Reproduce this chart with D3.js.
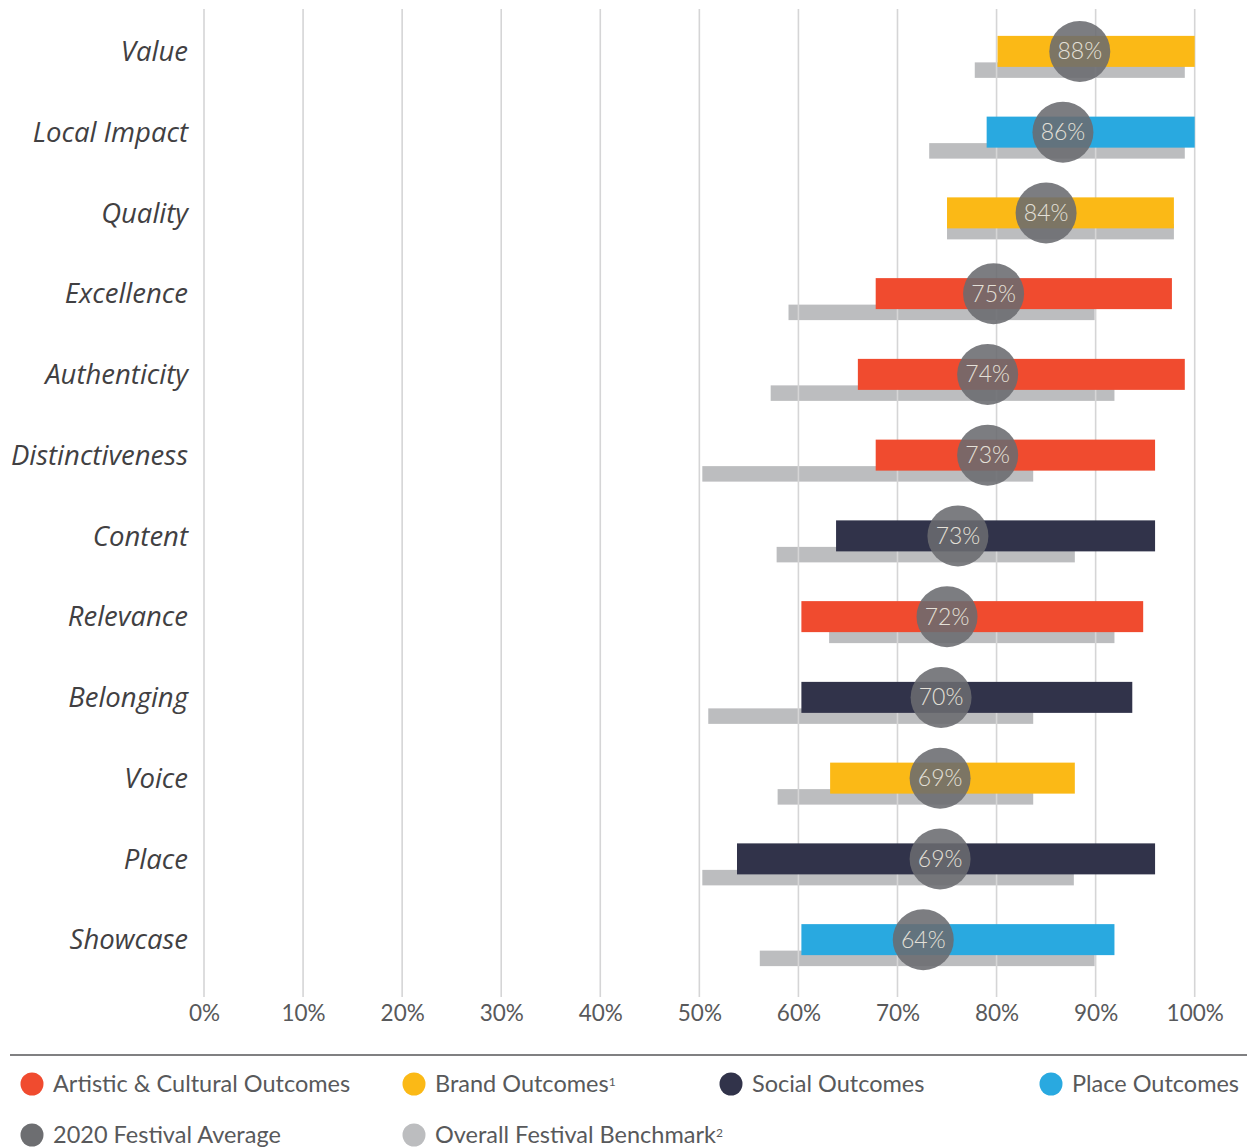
<!DOCTYPE html>
<html>
<head>
<meta charset="utf-8">
<script src="https://cdn.jsdelivr.net/npm/d3@7"></script>
<style>
  body { margin: 0; background: #fff; }
  svg { display: block; }
</style>
</head>
<body>
<div id="chart"></div>
<script>
// indicators, top to bottom
var categories = ['Value', 'Local Impact', 'Quality', 'Excellence', 'Authenticity', 'Distinctiveness',
  'Content', 'Relevance', 'Belonging', 'Voice', 'Place', 'Showcase']

// which outcome group each indicator belongs to
var outcomeType = ['brand', 'place', 'brand', 'artistic', 'artistic', 'artistic',
  'social', 'artistic', 'social', 'brand', 'social', 'place']

// 2020 festival range (coloured bar), in %
var rangeLow = [80.1, 79.0, 75.0, 67.8, 66.0, 67.8, 63.8, 60.3, 60.3, 63.2, 53.8, 60.3]
var rangeHigh = [100, 100, 97.9, 97.7, 99.0, 96.0, 96.0, 94.8, 93.7, 87.9, 96.0, 91.9]

// overall festival benchmark range (grey bar), in %
var benchLow = [77.8, 73.2, 75.0, 59.0, 57.2, 50.3, 57.8, 63.1, 50.9, 57.9, 50.3, 56.1]
var benchHigh = [99.0, 99.0, 97.9, 89.9, 91.9, 83.7, 87.9, 91.9, 83.7, 83.7, 87.8, 89.9]

// 2020 festival average: where the dot sits and what it says
var avgPos = [88.4, 86.7, 85.0, 79.7, 79.1, 79.1, 76.1, 75.0, 74.4, 74.3, 74.3, 72.6]
var avgLabel = ['88%', '86%', '84%', '75%', '74%', '73%', '73%', '72%', '70%', '69%', '69%', '64%']

var ticks = [0, 10, 20, 30, 40, 50, 60, 70, 80, 90, 100]

var colors = {
  artistic: '#f04b2f',
  brand: '#fbb916',
  social: '#31334a',
  place: '#29a9e0'
}

var legendItems = [
  { label: 'Artistic & Cultural Outcomes', sup: '', color: colors.artistic },
  { label: 'Brand Outcomes', sup: '1', color: colors.brand },
  { label: 'Social Outcomes', sup: '', color: colors.social },
  { label: 'Place Outcomes', sup: '', color: colors.place },
  { label: '2020 Festival Average', sup: '', color: '#6d6e71' },
  { label: 'Overall Festival Benchmark', sup: '2', color: '#bcbdbf' }
]

var width = 1247
var height = 1147

var svg = d3.select('#chart').append('svg')
  .attr('width', width)
  .attr('height', height)

var x = d3.scaleLinear().domain([0, 100]).range([204, 1194.7])
var y = d3.scaleBand().domain(categories).range([11, 980]).padding(0)
var yc = function (d) { return y(d) + y.bandwidth() / 2 }

var rows = categories.map(function (c, i) {
  return { cat: c, type: outcomeType[i], lo: rangeLow[i], hi: rangeHigh[i],
    blo: benchLow[i], bhi: benchHigh[i], avg: avgPos[i], label: avgLabel[i] }
})

// benchmark bars
svg.append('g').selectAll('rect')
  .data(rows)
  .enter().append('rect')
  .attr('x', function (d) { return x(d.blo) })
  .attr('y', function (d) { return yc(d.cat) + 11 })
  .attr('width', function (d) { return x(d.bhi) - x(d.blo) })
  .attr('height', 15.5)
  .attr('fill', '#bcbdbf')

// gridlines
svg.append('g').selectAll('line')
  .data(ticks)
  .enter().append('line')
  .attr('x1', function (d) { return x(d) })
  .attr('x2', function (d) { return x(d) })
  .attr('y1', 9)
  .attr('y2', 997)
  .attr('stroke', '#d5d5d6')
  .attr('stroke-width', 1.6)

// festival range bars
svg.append('g').selectAll('rect')
  .data(rows)
  .enter().append('rect')
  .attr('x', function (d) { return x(d.lo) })
  .attr('y', function (d) { return yc(d.cat) - 15.5 })
  .attr('width', function (d) { return x(d.hi) - x(d.lo) })
  .attr('height', 31)
  .attr('fill', function (d) { return colors[d.type] })

// average dots
var dots = svg.append('g').selectAll('g')
  .data(rows)
  .enter().append('g')
  .attr('transform', function (d) { return 'translate(' + [x(d.avg), yc(d.cat)] + ')' })

dots.append('circle')
  .attr('r', 30.5)
  .attr('fill', '#6a6b70')
  .attr('fill-opacity', 0.88)

dots.append('text')
  .attr('text-anchor', 'middle')
  .attr('dy', '0.35em')
  .style('font-family', 'Lato, sans-serif')
  .style('font-weight', 300)
  .style('font-size', '23px')
  .style('fill', '#e4e0d8')
  .text(function (d) { return d.label })

// category labels
svg.append('g').selectAll('text')
  .data(categories)
  .enter().append('text')
  .attr('x', 188)
  .attr('y', function (d) { return yc(d) })
  .attr('dy', '0.35em')
  .attr('text-anchor', 'end')
  .style('font-family', '"Open Sans", sans-serif')
  .style('font-style', 'italic')
  .style('font-size', '27.5px')
  .style('fill', '#414042')
  .text(function (d) { return d })

// x axis labels
var xAxis = d3.axisBottom(x)
  .tickValues(ticks)
  .tickSize(0)
  .tickPadding(0)
  .tickFormat(function (d) { return d + '%' })

var gx = svg.append('g')
  .attr('transform', 'translate(0,1005)')
  .call(xAxis)
gx.select('.domain').remove()
gx.selectAll('text')
  .style('font-family', 'Lato, sans-serif')
  .style('font-size', '22.5px')
  .style('fill', '#58595b')

// separator
svg.append('line')
  .attr('x1', 10).attr('x2', 1247)
  .attr('y1', 1055).attr('y2', 1055)
  .attr('stroke', '#808082')
  .attr('stroke-width', 2)

// legend
var legendX = [32, 414, 731, 1051, 32, 414]
var legendY = [1084, 1084, 1084, 1084, 1135, 1135]

var leg = svg.append('g').selectAll('g')
  .data(legendItems)
  .enter().append('g')
  .attr('transform', function (d, i) { return 'translate(' + [legendX[i], legendY[i]] + ')' })

leg.append('circle')
  .attr('r', 11.5)
  .attr('fill', function (d) { return d.color })

var lt = leg.append('text')
  .attr('x', 21)
  .attr('dy', '0.36em')
  .style('font-family', 'Lato, sans-serif')
  .style('font-size', '23.5px')
  .style('fill', '#58595b')

lt.append('tspan').text(function (d) { return d.label })
lt.append('tspan')
  .attr('dy', '-0.55em')
  .style('font-size', '12px')
  .text(function (d) { return d.sup })
</script>
</body>
</html>
